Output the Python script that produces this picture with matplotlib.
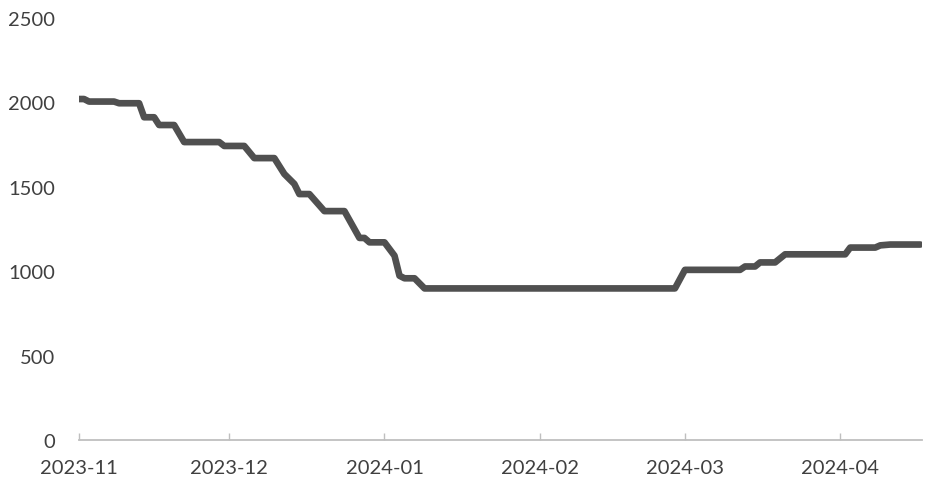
import matplotlib
matplotlib.use("Agg")
import matplotlib.pyplot as plt
import pandas as pd

dates = ["2023-11-01", "2023-11-02", "2023-11-03", "2023-11-08", "2023-11-09",
         "2023-11-13", "2023-11-14", "2023-11-16", "2023-11-17", "2023-11-20",
         "2023-11-22", "2023-11-29", "2023-11-30", "2023-12-04", "2023-12-06",
         "2023-12-10", "2023-12-12", "2023-12-14", "2023-12-15", "2023-12-17",
         "2023-12-20", "2023-12-24", "2023-12-27", "2023-12-28", "2023-12-29",
         "2024-01-01", "2024-01-03", "2024-01-04", "2024-01-05", "2024-01-07",
         "2024-01-09", "2024-02-28", "2024-03-01", "2024-03-12", "2024-03-13",
         "2024-03-15", "2024-03-16", "2024-03-19", "2024-03-21", "2024-04-02",
         "2024-04-03", "2024-04-08", "2024-04-09", "2024-04-11", "2024-04-17"]
values = [2020, 2020, 2005, 2005, 1995,
          1995, 1912, 1912, 1866, 1866,
          1765, 1765, 1742, 1742, 1670,
          1670, 1576, 1517, 1457, 1457,
          1356, 1356, 1197, 1197, 1171,
          1171, 1092, 973, 958, 958,
          898, 898, 1008, 1008, 1028,
          1028, 1052, 1052, 1100, 1100,
          1140, 1140, 1153, 1158, 1158]
tick_dates = ["2023-11-01", "2023-12-01", "2024-01-01", "2024-02-01", "2024-03-01", "2024-04-01"]
tick_labels = ["2023-11", "2023-12", "2024-01", "2024-02", "2024-03", "2024-04"]
y_ticks = [0, 500, 1000, 1500, 2000, 2500]

plt.rcParams['font.family'] = ['Lato', 'DejaVu Sans']
W, H = 931, 489
fig = plt.figure(figsize=(W / 100, H / 100), dpi=100)
ax = fig.add_axes([79 / W, (H - 441) / H, (922 - 79) / W, (441 - 19) / H])

x = pd.to_datetime(dates)
ax.plot(x, values, color="#505050", lw=4.8, solid_capstyle="round", solid_joinstyle="round")

ax.set_xlim(pd.Timestamp("2023-11-01"), pd.Timestamp("2024-04-17") + pd.Timedelta(hours=8))
ax.set_ylim(0, 2500)
ax.set_yticks(y_ticks)
ax.set_yticklabels([str(v) for v in y_ticks])
ax.set_xticks(pd.to_datetime(tick_dates))
ax.set_xticklabels(tick_labels)

for s in ["top", "right", "left"]:
    ax.spines[s].set_visible(False)
ax.spines["bottom"].set_color("#bfbfbf")
ax.spines["bottom"].set_linewidth(1.3)
ax.tick_params(axis="y", length=0, pad=17, labelsize=14.5, labelcolor="#404040")
ax.tick_params(axis="x", direction="in", length=5, width=1, color="#bfbfbf",
               pad=14, labelsize=14.5, labelcolor="#404040")

fig.savefig("out.png", dpi=100, facecolor="white")
